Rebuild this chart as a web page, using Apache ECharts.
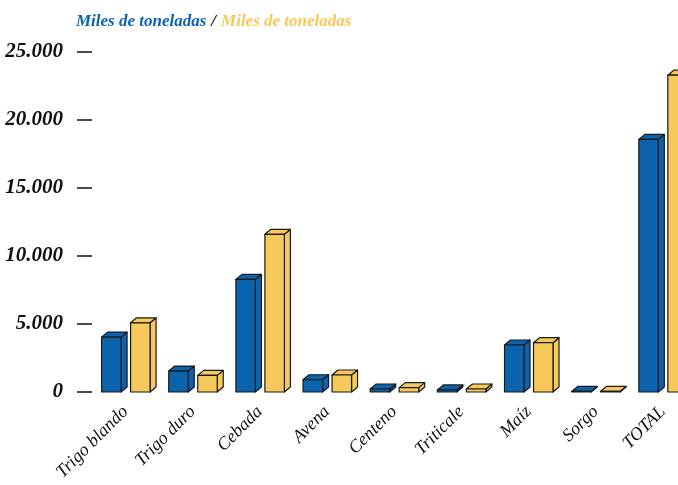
<!doctype html>
<html>
    <head>
        <meta charset="utf-8">
        <title>Cereales - miles de toneladas</title>
        <style>
            html, body { margin: 0; padding: 0; background: #fff; overflow: hidden; }
            /* the chart runs past the right edge of the window, as in the original */
            #main { width: 697px; height: 485px; }
        </style>
    </head>
    <body>
        <div id="main"></div>
        <script src="https://cdn.jsdelivr.net/npm/echarts@6/dist/echarts.min.js"></script>
        <script>

            var categories = ['Trigo blando', 'Trigo duro', 'Cebada', 'Avena', 'Centeno', 'Triticale', 'Maíz', 'Sorgo', 'TOTAL'];
            var blueValues = [4030, 1540, 8270, 900, 220, 150, 3450, 40, 18550];
            var yellowValues = [5080, 1220, 11580, 1250, 320, 220, 3620, 50, 23260];
            var seriesNames = ['Miles de toneladas', 'Miles de toneladas'];

            var BLUE = '#0b63ae';
            var YELLOW = '#f7c95b';
            var SERIF = '"Liberation Serif", "DejaVu Serif", serif';

            var myChart = echarts.init(document.getElementById('main'));

            // pseudo 3D column: front face, right side and top
            function makeRenderer(shift, color) {
                return function (params, api) {
                    var idx = api.value(0);
                    var base = api.coord([idx, 0]);
                    var top = api.coord([idx, api.value(1)]);
                    var w = 19.5, dx = 6, dy = 5;
                    var x0 = base[0] + shift, x1 = x0 + w;
                    var yb = base[1], yt = top[1];
                    var st = { fill: color, stroke: '#1a1a1a', lineWidth: 1.2, lineJoin: 'round' };
                    return {
                        type: 'group',
                        children: [
                            { type: 'polygon', shape: { points: [[x1, yb], [x1 + dx, yb - dy], [x1 + dx, yt - dy], [x1, yt]] }, style: st },
                            { type: 'polygon', shape: { points: [[x0, yt], [x1, yt], [x1 + dx, yt - dy], [x0 + dx, yt - dy]] }, style: st },
                            { type: 'rect', shape: { x: x0, y: yt, width: w, height: yb - yt }, style: st }
                        ]
                    };
                };
            }

            myChart.setOption({
                animation: false,
                title: {
                    left: 71,
                    top: 8,
                    text: '{b|' + seriesNames[0] + '} {k|/} {y|' + seriesNames[1] + '}',
                    textStyle: {
                        rich: {
                            b: { color: BLUE, fontFamily: SERIF, fontStyle: 'italic', fontWeight: 'bold', fontSize: 17 },
                            k: { color: '#111', fontFamily: SERIF, fontStyle: 'italic', fontWeight: 'bold', fontSize: 17 },
                            y: { color: YELLOW, fontFamily: SERIF, fontStyle: 'italic', fontWeight: 'bold', fontSize: 17 }
                        }
                    }
                },
                grid: {
                    left: 92,
                    right: 0.6,
                    top: 51.5,
                    bottom: 93
                },
                xAxis: {
                    type: 'category',
                    data: categories,
                    axisLine: { show: false },
                    axisTick: { show: false },
                    axisLabel: {
                        interval: 0,
                        rotate: 45,
                        margin: 17,
                        color: '#111',
                        fontFamily: SERIF,
                        fontStyle: 'italic',
                        fontSize: 18
                    }
                },
                yAxis: {
                    type: 'value',
                    min: 0,
                    max: 25000,
                    interval: 5000,
                    splitLine: { show: false },
                    axisLine: { show: false },
                    axisTick: { show: true, length: 15, lineStyle: { color: '#111', width: 1.5 } },
                    axisLabel: {
                        margin: 29,
                        color: '#111',
                        fontFamily: SERIF,
                        fontStyle: 'italic',
                        fontWeight: 'bold',
                        fontSize: 21,
                        formatter: function (v) {
                            return String(v).replace(/\B(?=(\d{3})+(?!\d))/g, '.');
                        }
                    }
                },
                series: [{
                    type: 'custom',
                    name: seriesNames[0],
                    renderItem: makeRenderer(-24, BLUE),
                    encode: { x: 0, y: 1 },
                    data: blueValues.map(function (v, i) { return [i, v]; })
                }, {
                    type: 'custom',
                    name: seriesNames[1],
                    renderItem: makeRenderer(5, YELLOW),
                    encode: { x: 0, y: 1 },
                    data: yellowValues.map(function (v, i) { return [i, v]; })
                }]
            });

        </script>
    </body>
</html>
